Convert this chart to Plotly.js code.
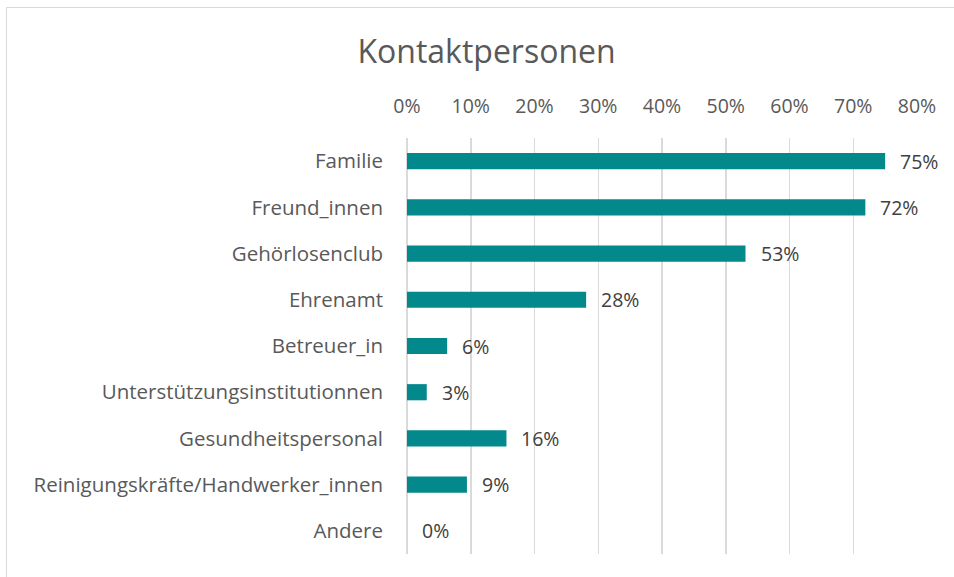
<!DOCTYPE html>
<html><head><meta charset="utf-8">
<script src="https://cdn.plot.ly/plotly-3.0.1.min.js"></script>
<style>html,body{margin:0;padding:0;background:#fff;}#chart{width:954px;height:577px;}</style>
</head><body><div id="chart"></div>
<script>
const categories = ["Familie","Freund_innen","Gehörlosenclub","Ehrenamt","Betreuer_in","Unterstützungsinstitutionnen","Gesundheitspersonal","Reinigungskräfte/Handwerker_innen","Andere"];
const values = [0.75, 0.719, 0.531, 0.281, 0.063, 0.031, 0.156, 0.094, 0.00];
const valueLabels = ["75%","72%","53%","28%","6%","3%","16%","9%","0%"];
const tickVals = [0,0.1,0.2,0.3,0.4,0.5,0.6,0.7,0.8];
const tickLabels = ["0%","10%","20%","30%","40%","50%","60%","70%","80%"];

const FONT = "'Open Sans', sans-serif";
const trace = {
  type: 'bar', orientation: 'h', x: values, y: categories,
  marker: {color: '#03888C'}, hoverinfo: 'skip'
};
const annotations = categories.map((c,i)=>({
  x: values[i], y: c, xref:'x', yref:'y', text: valueLabels[i], showarrow:false,
  xanchor:'left', xshift: 13, font:{family:FONT, size:19.5, color:'#404040'}
}));
const L=407, R=37, T=138, B=23, W=954-L-R, H=577-T-B;
const layout = {
  width:954, height:577, paper_bgcolor:'#fff', plot_bgcolor:'#fff',
  margin:{l:L, r:R, t:T, b:B, pad:0},
  title:{text:'Kontaktpersonen', x:0.51, xanchor:'center', y:1-52/577, yanchor:'middle', font:{family:FONT, size:32, color:'#595959'}},
  bargap:0.65, showlegend:false,
  xaxis:{side:'top', range:[0,0.8], tickvals:tickVals, ticktext:tickLabels, showgrid:true, gridcolor:'#dadada', gridwidth:1.5,
    zeroline:true, zerolinecolor:'#dadada', zerolinewidth:1.5, showline:false, ticks:'', ticklabelstandoff:20,
    tickfont:{family:FONT, size:19.5, color:'#595959'}, fixedrange:true},
  yaxis:{type:'category', categoryorder:'array', categoryarray:categories, autorange:'reversed', showgrid:false, zeroline:false, showline:false,
    ticks:'', ticklabelstandoff:23, tickfont:{family:FONT, size:20.5, color:'#595959'}, fixedrange:true},
  annotations: annotations,
  shapes:[{type:'rect', xref:'paper', yref:'paper', x0:(6.5-L)/W, x1:(1000-L)/W, y0:(577-B-620)/H, y1:(577-B-7.5)/H,
    line:{color:'#d9d9d9', width:1}, fillcolor:'rgba(0,0,0,0)', layer:'below'}]
};
Plotly.newPlot('chart',[trace],layout,{displayModeBar:false, staticPlot:true});
</script></body></html>
